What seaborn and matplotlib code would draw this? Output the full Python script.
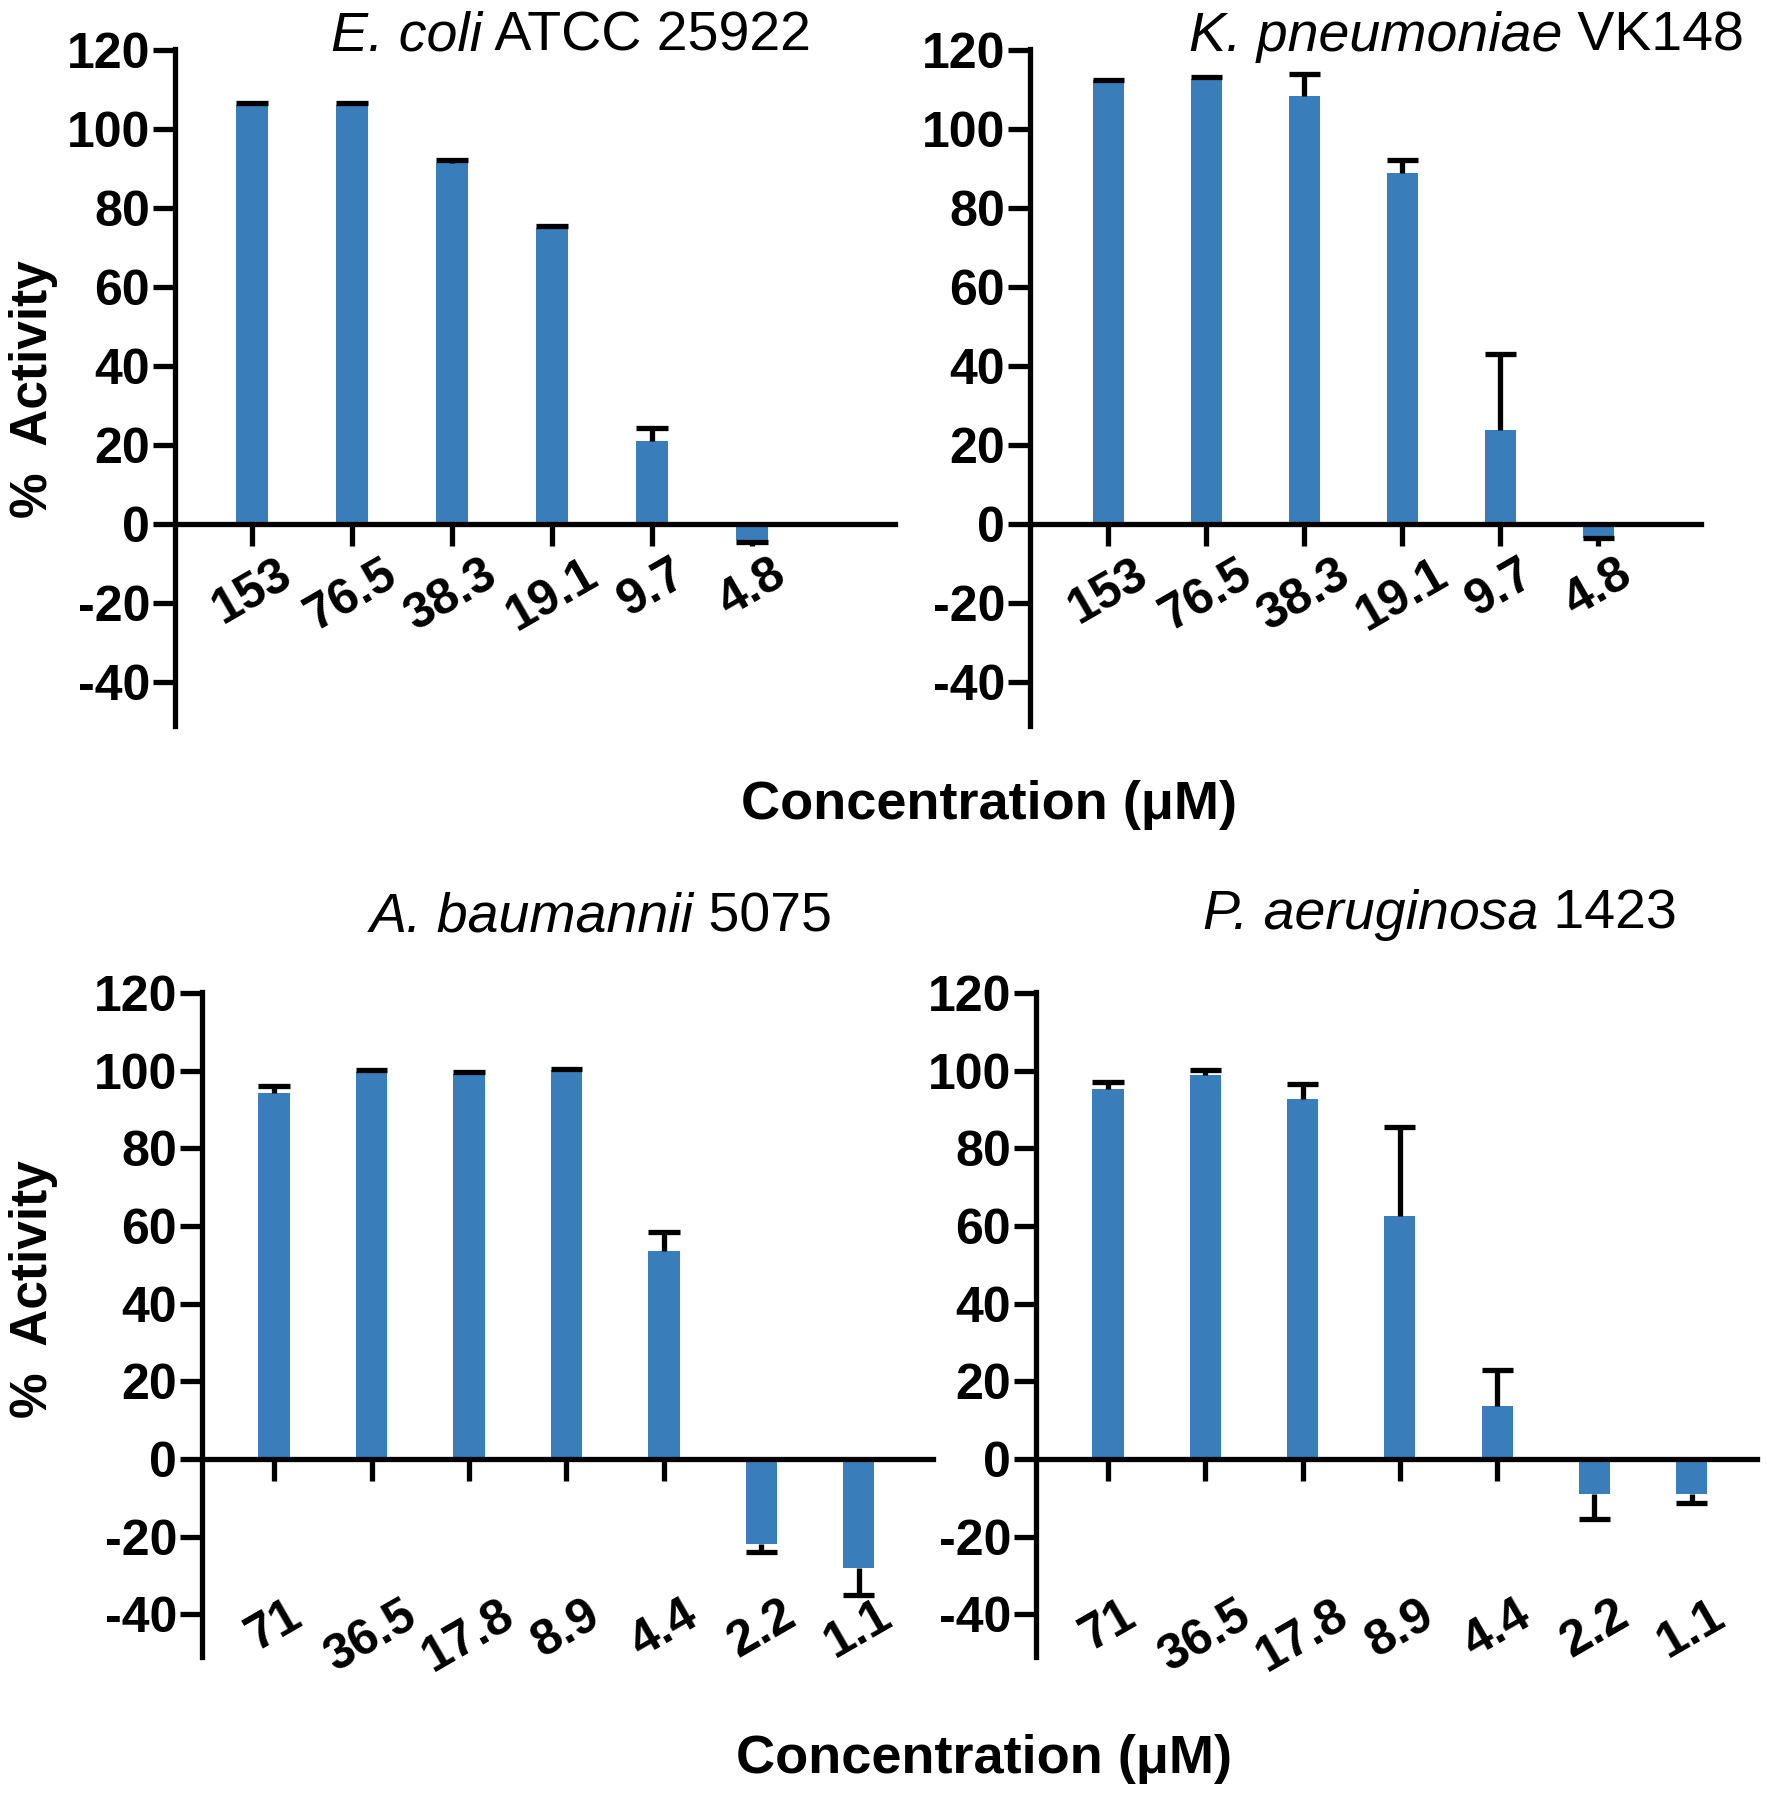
import matplotlib
matplotlib.use("Agg")
import matplotlib.pyplot as plt
import seaborn as sns
import pandas as pd

# concentrations (uM) for the two rows of panels
conc_top = ["153", "76.5", "38.3", "19.1", "9.7", "4.8"]
conc_bottom = ["71", "36.5", "17.8", "8.9", "4.4", "2.2", "1.1"]

# % activity (mean) and one-sided error
ecoli_mean = [106.0, 106.0, 91.5, 75.0, 21.0, -4.0]
ecoli_err = [0.5, 0.5, 0.8, 0.5, 3.3, 0.5]
kpneu_mean = [112.5, 112.8, 108.5, 89.0, 24.0, -3.5]
kpneu_err = [0.0, 0.3, 5.5, 3.3, 19.0, 0.0]
abaum_mean = [94.2, 99.8, 99.3, 100.2, 53.7, -21.8, -28.0]
abaum_err = [1.8, 0.4, 0.4, 0.3, 4.7, 2.2, 7.0]
paer_mean = [95.3, 98.8, 92.7, 62.7, 13.7, -9.0, -9.0]
paer_err = [1.8, 1.5, 4.0, 22.7, 9.3, 6.4, 2.3]

# panel titles: italic species name + plain strain
species = ["E. coli", "K. pneumoniae", "A. baumannii", "P. aeruginosa"]
strains = ["ATCC 25922", "VK148", "5075", "1423"]

sns.set_style("ticks")
plt.rcParams["font.family"] = ["Liberation Sans", "DejaVu Sans"]
plt.rcParams["axes.unicode_minus"] = False
for key in ("text.color", "axes.labelcolor", "xtick.color", "ytick.color", "axes.edgecolor"):
    plt.rcParams[key] = "black"

BAR = "#3A7DBB"
LW = 3.8
BAR_W = 0.32

fig = plt.figure(figsize=(17.67, 18.0), dpi=100)
renderer = fig.canvas.get_renderer()


def mixed_title(xc, y, it_part, rm_part):
    t1 = fig.text(0, y, it_part, fontsize=40, style="italic", ha="left", va="center")
    t2 = fig.text(0, y, " " + rm_part, fontsize=40, ha="left", va="center")
    w1 = t1.get_window_extent(renderer).width / fig.bbox.width
    w2 = t2.get_window_extent(renderer).width / fig.bbox.width
    x0 = xc - (w1 + w2) / 2
    t1.set_x(x0)
    t2.set_x(x0 + w1)


panels = [
    # axes rect, labels, means, errs, xlim, label pad, title pos
    ([0.0990, 0.5967, 0.4075, 0.3761], conc_top, ecoli_mean, ecoli_err, (-0.77, 6.43), 3, (0.323, 0.9795)),
    ([0.5829, 0.5967, 0.3798, 0.3761], conc_top, kpneu_mean, kpneu_err, (-0.80, 6.05), 3, (0.830, 0.9795)),
    ([0.1143, 0.0794, 0.4137, 0.3695], conc_bottom, abaum_mean, abaum_err, (-0.74, 6.76), 80, (0.340, 0.490)),
    ([0.5863, 0.0794, 0.4080, 0.3695], conc_bottom, paer_mean, paer_err, (-0.74, 6.67), 80, (0.815, 0.4917)),
]

for i, (rect, labels, means, errs, xlim, pad, tpos) in enumerate(panels):
    ax = fig.add_axes(rect)
    df = pd.DataFrame({"conc": labels, "activity": means})
    sns.barplot(data=df, x="conc", y="activity", order=labels, ax=ax,
                color=BAR, saturation=1, width=BAR_W, linewidth=0, errorbar=None)
    # one-sided error bars pointing away from zero, cap only at the far end
    xs = list(range(len(labels)))
    ends = [m + e if m >= 0 else m - e for m, e in zip(means, errs)]
    ax.vlines(xs, means, ends, color="black", linewidth=LW, zorder=3)
    ax.hlines(ends, [x - BAR_W / 2 for x in xs], [x + BAR_W / 2 for x in xs],
              color="black", linewidth=LW, zorder=3)

    ax.set_xlim(*xlim)
    ax.set_ylim(-51, 120.3)
    ax.set_yticks(range(-40, 121, 20))
    ax.set_axisbelow(True)
    ax.spines["top"].set_visible(False)
    ax.spines["right"].set_visible(False)
    ax.spines["bottom"].set_position(("data", 0))
    ax.spines["bottom"].set_zorder(2.6)
    for s in ("left", "bottom"):
        ax.spines[s].set_linewidth(LW)
        ax.spines[s].set_color("black")
    ax.tick_params(axis="both", direction="out", length=16, width=LW, color="black")
    ax.tick_params(axis="y", labelsize=36, pad=2)
    ax.tick_params(axis="x", labelsize=36, pad=pad)
    for lab in ax.get_yticklabels():
        lab.set_fontweight("bold")
    for lab in ax.get_xticklabels():
        lab.set_fontweight("bold")
        lab.set_rotation(30)
        lab.set_ha("center")
    ax.set_xlabel("")
    ax.set_ylabel("")
    mixed_title(tpos[0], tpos[1], species[i], strains[i])

for y in (0.784, 0.284):
    fig.text(0.019, y, "%  Activity", rotation=90, fontsize=37, fontweight="bold",
             ha="center", va="center")
fig.text(0.560, 0.553, "Concentration (\u03bcM)", fontsize=39, fontweight="bold",
         ha="center", va="center")
fig.text(0.557, 0.0228, "Concentration (\u03bcM)", fontsize=39, fontweight="bold",
         ha="center", va="center")

fig.savefig("out.png", dpi=100, facecolor="white")
